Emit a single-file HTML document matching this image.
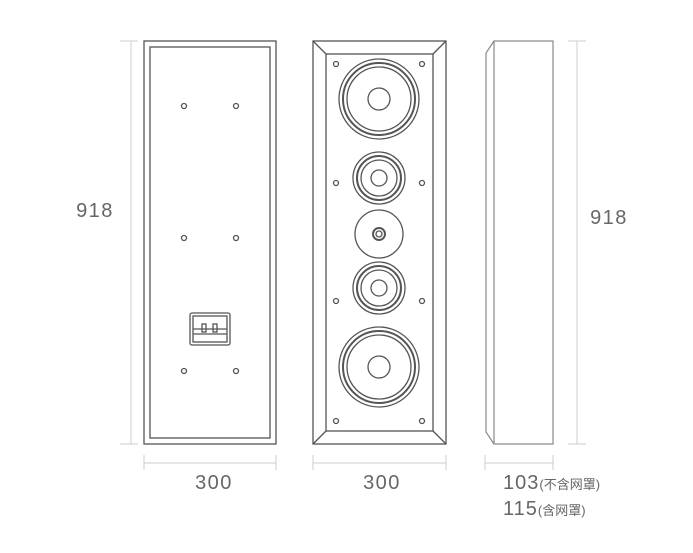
<!DOCTYPE html>
<html><head><meta charset="utf-8"><style>
html,body{margin:0;padding:0;background:#fff;width:693px;height:553px;overflow:hidden}
svg{display:block}
text{font-family:"Liberation Sans","Noto Sans CJK SC",sans-serif;fill:#666}
</style></head><body>
<svg width="693" height="553" viewBox="0 0 693 553" xmlns="http://www.w3.org/2000/svg">
<g fill="none" stroke="#ccc" stroke-width="1">
<line x1="131" y1="41" x2="131" y2="444"/><line x1="120" y1="41" x2="138" y2="41"/><line x1="120" y1="444" x2="138" y2="444"/>
<line x1="144" y1="463" x2="276" y2="463"/><line x1="144" y1="455" x2="144" y2="470"/><line x1="276" y1="455" x2="276" y2="470"/>
<line x1="313" y1="463" x2="446" y2="463"/><line x1="313" y1="455" x2="313" y2="470"/><line x1="446" y1="455" x2="446" y2="470"/>
<line x1="577" y1="41" x2="577" y2="444"/><line x1="568" y1="41" x2="586" y2="41"/><line x1="568" y1="444" x2="586" y2="444"/>
<line x1="485" y1="463" x2="553" y2="463"/><line x1="485" y1="455" x2="485" y2="470"/><line x1="553" y1="455" x2="553" y2="470"/>
</g>
<g fill="none" stroke="#555" stroke-width="1.3">
<rect x="144" y="41" width="132" height="403"/>
<rect x="150" y="47" width="120" height="391"/>
<circle cx="184" cy="106" r="2.5"/><circle cx="236" cy="106" r="2.5"/>
<circle cx="184" cy="238" r="2.5"/><circle cx="236" cy="238" r="2.5"/>
<circle cx="184" cy="371" r="2.5"/><circle cx="236" cy="371" r="2.5"/>
<rect x="190" y="313" width="40" height="32" rx="2"/>
<rect x="193" y="316" width="34" height="26"/>
<line x1="193" y1="329" x2="227" y2="329"/><line x1="193" y1="334" x2="227" y2="334"/>
<rect x="202" y="324" width="4" height="8"/><rect x="213" y="324" width="4" height="8"/>

<rect x="313" y="41" width="133" height="403"/>
<rect x="326" y="54" width="107" height="377"/>
<line x1="313" y1="41" x2="326" y2="54"/><line x1="446" y1="41" x2="433" y2="54"/>
<line x1="313" y1="444" x2="326" y2="431"/><line x1="446" y1="444" x2="433" y2="431"/>
<circle cx="336" cy="64" r="2.5"/><circle cx="422" cy="64" r="2.5"/>
<circle cx="336" cy="183" r="2.5"/><circle cx="422" cy="183" r="2.5"/>
<circle cx="336" cy="301" r="2.5"/><circle cx="422" cy="301" r="2.5"/>
<circle cx="336" cy="421" r="2.5"/><circle cx="422" cy="421" r="2.5"/>
<g>
<circle cx="379" cy="99" r="40"/><circle cx="379" cy="99" r="36" stroke-width="2"/><circle cx="379" cy="99" r="32"/><circle cx="379" cy="99" r="11"/>
</g>
<g>
<circle cx="379" cy="178" r="26"/><circle cx="379" cy="178" r="22" stroke-width="2"/><circle cx="379" cy="178" r="18"/><circle cx="379" cy="178" r="8"/>
</g>
<g>
<circle cx="379" cy="234" r="24"/><circle cx="379" cy="234" r="6" stroke-width="2"/><circle cx="379" cy="234" r="3"/>
</g>
<g>
<circle cx="379" cy="288" r="26"/><circle cx="379" cy="288" r="22" stroke-width="2"/><circle cx="379" cy="288" r="18"/><circle cx="379" cy="288" r="8"/>
</g>
<g>
<circle cx="379" cy="367" r="40"/><circle cx="379" cy="367" r="36" stroke-width="2"/><circle cx="379" cy="367" r="32"/><circle cx="379" cy="367" r="11"/>
</g>
</g>
<g fill="none" stroke="#888" stroke-width="1.2">
<rect x="494" y="41" width="59" height="403"/>
<polyline points="494,41 486,53 486,432 494,444"/>
</g>
<text x="95" y="217" font-size="20" letter-spacing="1.5" text-anchor="middle">918</text>
<text x="609" y="224" font-size="20" letter-spacing="1.5" text-anchor="middle">918</text>
<text x="214" y="489" font-size="20" letter-spacing="1.5" text-anchor="middle">300</text>
<text x="382" y="489" font-size="20" letter-spacing="1.5" text-anchor="middle">300</text>
<text x="503" y="489" font-size="20" letter-spacing="1">103<tspan font-size="13" letter-spacing="0">(不含网罩)</tspan></text>
<text x="503" y="515" font-size="20" letter-spacing="1">115<tspan font-size="13" letter-spacing="0">(含网罩)</tspan></text>
</svg>
</body></html>
